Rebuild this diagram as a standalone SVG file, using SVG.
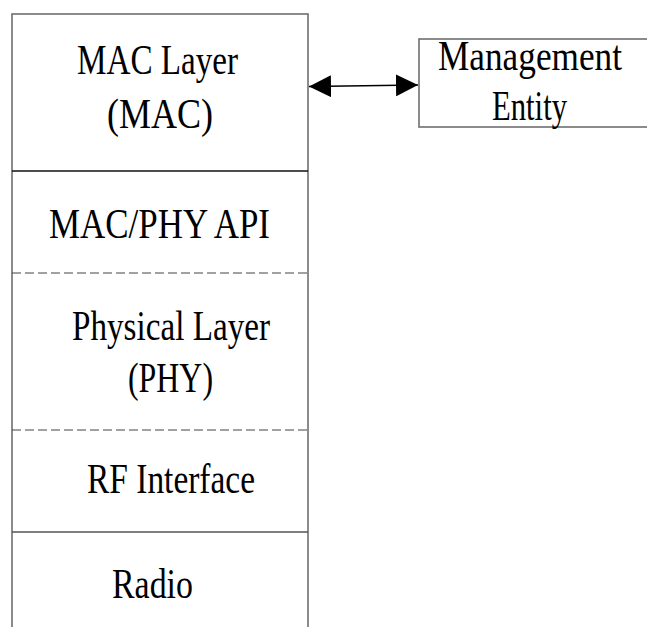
<svg xmlns="http://www.w3.org/2000/svg" width="647" height="627" viewBox="0 0 647 627">
<style>
.t{font-family:"Liberation Serif","DejaVu Serif",serif;font-size:42px;fill:#000}
.b{fill:#fff;stroke:#6e6e6e;stroke-width:1.6}
.d{stroke:#444;stroke-width:1.2;stroke-dasharray:9,4;fill:none}
</style>
<defs>
<marker id="ah" viewBox="0 0 22 22" refX="22" refY="11" markerWidth="22" markerHeight="22" markerUnits="userSpaceOnUse" orient="auto-start-reverse">
<path d="M0,0 L22,11 L0,22 Z" fill="#000"/>
</marker>
</defs>
<rect width="647" height="627" fill="#fff"/>
<g id="stack">
<rect class="b" x="12" y="14" width="296" height="620"/>
<line x1="12" y1="171" x2="308" y2="171" stroke="#111" stroke-width="1.4"/>
<line class="d" x1="12" y1="273" x2="308" y2="273"/>
<line class="d" x1="12" y1="430" x2="308" y2="430"/>
<line x1="12" y1="532" x2="308" y2="532" stroke="#555" stroke-width="1.4"/>
</g>
<g id="mac">
<text class="t" x="77" y="74" textLength="161" lengthAdjust="spacingAndGlyphs">MAC Layer</text>
<text class="t" x="107" y="128" textLength="106" lengthAdjust="spacingAndGlyphs">(MAC)</text>
</g>
<g id="api">
<text class="t" x="49" y="238" textLength="221" lengthAdjust="spacingAndGlyphs">MAC/PHY API</text>
</g>
<g id="phy">
<text class="t" x="72" y="340" textLength="198" lengthAdjust="spacingAndGlyphs">Physical Layer</text>
<text class="t" x="128" y="392" textLength="85" lengthAdjust="spacingAndGlyphs">(PHY)</text>
</g>
<g id="rf">
<text class="t" x="87" y="493" textLength="168" lengthAdjust="spacingAndGlyphs">RF Interface</text>
</g>
<g id="radio">
<text class="t" x="112" y="598" textLength="81" lengthAdjust="spacingAndGlyphs">Radio</text>
</g>
<g id="mgmt">
<rect class="b" x="419" y="39" width="230" height="88" stroke-width="1.2"/>
<text class="t" x="438" y="70" textLength="184" lengthAdjust="spacingAndGlyphs">Management</text>
<text class="t" x="492" y="120" textLength="75" lengthAdjust="spacingAndGlyphs">Entity</text>
</g>
<g id="connectors">
<line x1="309" y1="86.5" x2="418" y2="85" stroke="#000" stroke-width="1.3" marker-start="url(#ah)" marker-end="url(#ah)"/>
</g>
</svg>
